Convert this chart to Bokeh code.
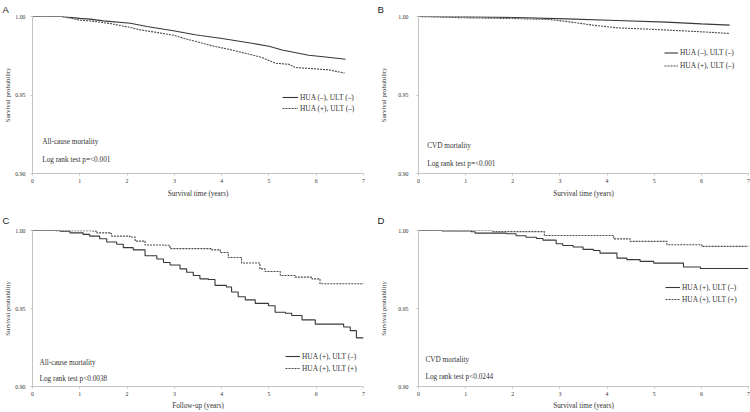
from bokeh.plotting import figure
from bokeh.models import Range1d, FixedTicker, Legend, LegendItem, Label, PrintfTickFormatter
from bokeh.layouts import column, row
from bokeh.embed import file_html
from bokeh.resources import INLINE

# ---------------- data ----------------
x_ticks = [0, 1, 2, 3, 4, 5, 6, 7]
y_ticks = [0.90, 0.95, 1.00]

# Panel A: all-cause mortality
a_t_neg = [0, 0.62, 1.0, 1.22, 1.5, 2.07, 2.42, 2.98, 3.44, 3.55, 4.01, 4.64, 5.0, 5.28, 5.84, 6.2, 6.62]
a_s_neg = [1.0, 1.0, 0.9988, 0.9983, 0.9972, 0.9957, 0.9936, 0.9909, 0.9884, 0.9879, 0.986, 0.983,
           0.981, 0.9787, 0.9753, 0.9742, 0.9728]
a_t_pos = [0, 0.62, 1.0, 1.22, 1.65, 2.07, 2.28, 2.63, 2.98, 3.27, 3.55, 3.80, 4.15, 4.50, 4.86, 5.14,
           5.42, 5.56, 5.91, 6.27, 6.48, 6.6]
a_s_pos = [1.0, 1.0, 0.9977, 0.9972, 0.9955, 0.993, 0.9915, 0.9898, 0.9881, 0.9855, 0.9834, 0.9813,
           0.9791, 0.9766, 0.9738, 0.9702, 0.9696, 0.9675, 0.9668, 0.966, 0.9647, 0.9640]

# Panel B: CVD mortality
b_t_neg = [0, 1.0, 2.07, 3.14, 4.2, 5.26, 6.0, 6.6]
b_s_neg = [1.0, 0.9999, 0.9994, 0.9985, 0.9975, 0.9964, 0.9953, 0.9945]
b_t_pos = [0, 0.5, 0.94, 2.0, 2.78, 3.2, 3.7, 4.2, 5.05, 5.97, 6.6]
b_s_pos = [1.0, 0.9996, 0.9992, 0.9987, 0.9981, 0.9966, 0.9945, 0.9928, 0.9917, 0.9903, 0.9892]

# Panel C: all-cause mortality, HUA(+) by ULT
c_t_nult = [0, 0.58, 0.79, 1.07, 1.21, 1.42, 1.57, 1.78, 1.92, 2.13, 2.38, 2.63, 2.77, 2.91, 3.12, 3.26,
            3.40, 3.54, 3.72, 3.86, 4.10, 4.21, 4.35, 4.50, 4.71, 4.99, 5.13, 5.35, 5.48, 5.70, 5.98,
            6.58, 6.72, 6.85, 7.0]
c_s_nult = [1.0, 0.9996, 0.9985, 0.9975, 0.9964, 0.9947, 0.9926, 0.9912, 0.989, 0.9876, 0.9838, 0.9817,
            0.9795, 0.9779, 0.9754, 0.9732, 0.9712, 0.969, 0.9686, 0.9648, 0.9638, 0.9606, 0.9575,
            0.9555, 0.9533, 0.9518, 0.9476, 0.947, 0.9455, 0.9427, 0.940, 0.9381, 0.9358, 0.9312, 0.9312]
c_t_ult = [0, 0.5, 1.28, 1.36, 1.64, 1.67, 2.06, 2.17, 2.38, 2.77, 2.91, 3.79, 3.97, 4.14, 4.42, 4.81,
           4.92, 5.24, 5.55, 5.91, 6.08, 7.0]
c_s_ult = [1.0, 0.9998, 0.9996, 0.9985, 0.9981, 0.9964, 0.9958, 0.9932, 0.9907, 0.9905, 0.9884, 0.9876,
           0.9859, 0.9827, 0.9792, 0.9754, 0.9737, 0.9712, 0.9701, 0.969, 0.9659, 0.9655]

# Panel D: CVD mortality, HUA(+) by ULT
d_t_nult = [0, 0.5, 1.12, 1.2, 1.86, 2.07, 2.28, 2.5, 2.64, 2.92, 3.06, 3.28, 3.49, 3.71, 3.85, 4.21,
            4.42, 4.70, 4.99, 5.62, 5.98, 7.0]
d_s_nult = [1.0, 0.9997, 0.9992, 0.9983, 0.9979, 0.9966, 0.9957, 0.9949, 0.9938, 0.9915, 0.9904, 0.9894,
            0.9879, 0.9872, 0.9855, 0.9823, 0.9813, 0.9802, 0.9791, 0.9766, 0.9756, 0.9756]
d_t_ult = [0, 1.58, 2.67, 4.14, 4.49, 5.27, 6.01, 7.0]
d_s_ult = [1.0, 0.9993, 0.9968, 0.9946, 0.993, 0.9909, 0.9898, 0.9898]

lab_nn = "HUA (\u2013), ULT (\u2013)"
lab_pn = "HUA (+), ULT (\u2013)"
lab_pp = "HUA (+), ULT (+)"

SERIF = "Liberation Serif"
SANS = "Liberation Sans"
TXT = "#333333"
AX = "#c4c4c4"
SOLID = "#383838"
DASHC = "#4a4a4a"


def panel(letter, width, height, bl, br, bt, bb, xlabel, series, step, leg, notes,
          ylab_standoff, ylab_tick_standoff, xlab_standoff, title_standoff):
    p = figure(width=width, height=height, x_range=Range1d(0, 7), y_range=Range1d(0.90, 1.00),
               output_backend="svg", toolbar_location=None,
               min_border_left=bl, min_border_right=br, min_border_top=bt, min_border_bottom=bb)
    p.grid.visible = False
    p.outline_line_color = None
    p.background_fill_color = "white"
    p.border_fill_color = "white"

    p.title.text = letter
    p.title.align = "left"
    p.title.offset = -bl + 2
    p.title.standoff = title_standoff
    p.title.text_font = SANS
    p.title.text_font_size = "9.5px"
    p.title.text_font_style = "normal"
    p.title.text_color = "#222222"

    for ax in (p.xaxis[0], p.yaxis[0]):
        ax.axis_line_color = AX
        ax.axis_line_width = 1
        ax.major_tick_line_color = AX
        ax.major_tick_out = 2
        ax.major_tick_in = 0
        ax.minor_tick_line_color = None
        ax.major_label_text_font = SERIF
        ax.major_label_text_font_size = "5.8px"
        ax.major_label_text_color = TXT
        ax.axis_label_text_font = SERIF
        ax.axis_label_text_font_style = "normal"
        ax.axis_label_text_color = TXT
    p.xaxis.ticker = FixedTicker(ticks=x_ticks)
    p.yaxis.ticker = FixedTicker(ticks=y_ticks)
    p.yaxis.formatter = PrintfTickFormatter(format="%.2f")
    p.xaxis.axis_label = xlabel
    p.yaxis.axis_label = "Survival probability"
    p.xaxis.axis_label_text_font_size = "7.2px"
    p.yaxis.axis_label_text_font_size = "6.8px"
    p.xaxis.major_label_standoff = 3
    p.yaxis.major_label_standoff = ylab_tick_standoff
    p.xaxis.axis_label_standoff = xlab_standoff
    p.yaxis.axis_label_standoff = ylab_standoff

    items = []
    for (t, s, lab, dashed) in series:
        kw = dict(line_color=DASHC if dashed else SOLID, line_width=1.1)
        if dashed:
            kw["line_dash"] = "2 1"
        if step:
            r = p.step(t, s, mode="after", **kw)
        else:
            r = p.line(t, s, **kw)
        items.append(LegendItem(label=lab, renderers=[r]))

    lx, ly, h, sp, gw = leg
    legend = Legend(items=items, location=(lx, ly), orientation="vertical",
                    label_text_font=SERIF, label_text_font_size="7.4px", label_text_color=TXT,
                    glyph_width=gw, glyph_height=h, label_height=h, label_standoff=2,
                    spacing=sp, padding=0, margin=0, border_line_color=None,
                    background_fill_alpha=0)
    p.add_layout(legend)

    for (txt, nx, ny) in notes:
        p.add_layout(Label(x=nx, y=ny, x_units="screen", y_units="screen", text=txt,
                           text_font=SERIF, text_font_size="7.25px", text_color=TXT,
                           text_baseline="middle", text_align="left"))
    return p


pA = panel("A", 375, 206, 32, 12, 16, 33, "Survival time (years)",
           [(a_t_neg, a_s_neg, lab_nn, False), (a_t_pos, a_s_pos, lab_pn, True)], False,
           (250, 60, 10, 1, 16),
           [("All-cause mortality", 9.7, 32), ("Log rank test p=<0.001", 9.7, 14)],
           1, 5, 4, 3)
pB = panel("B", 375, 206, 43, 2, 16, 33, "Survival time (years)",
           [(b_t_neg, b_s_neg, lab_nn, False), (b_t_pos, b_s_pos, lab_pn, True)], False,
           (246, 102, 11, 2, 14),
           [("CVD mortality", 8.7, 27.3), ("Log rank test p=<0.001", 8.7, 9.7)],
           8, 8, 4, 3)
pC = panel("C", 375, 206, 32, 12, 24, 24, "Follow-up (years)",
           [(c_t_nult, c_s_nult, lab_pn, False), (c_t_ult, c_s_ult, lab_pp, True)], True,
           (253, 13, 10, 2, 15),
           [("All-cause mortality", 7, 24), ("Log rank test p<0.0038", 7, 8)],
           1, 5, 3, 10)
pD = panel("D", 375, 206, 43, 2, 24, 24, "Survival time (years)",
           [(d_t_nult, d_s_nult, lab_pn, False), (d_t_ult, d_s_ult, lab_pp, True)], True,
           (247, 82, 10, 2, 15),
           [("CVD mortality", 7, 26.3), ("Log rank test p<0.0244", 7, 10)],
           8, 8, 3, 10)

layout = column(row(pA, pB, spacing=0), row(pC, pD, spacing=0), spacing=0)
open("out.html", "w").write(file_html(layout, INLINE))
